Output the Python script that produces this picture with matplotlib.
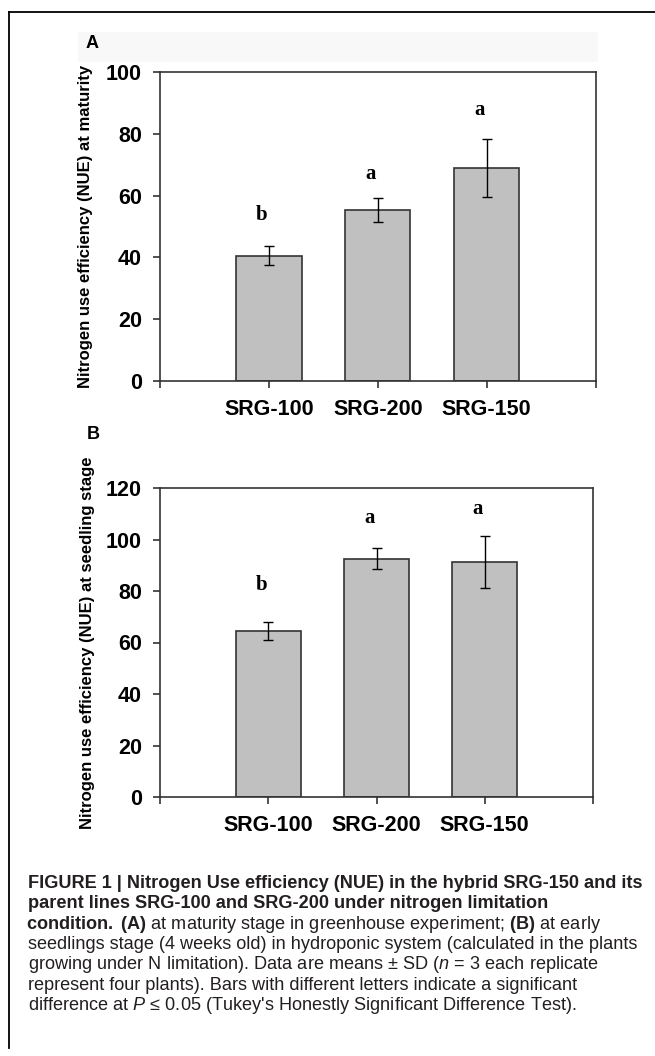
import numpy as np
import matplotlib
matplotlib.use("Agg")
import matplotlib.pyplot as plt
from matplotlib import font_manager
from matplotlib.patches import Rectangle
from matplotlib.lines import Line2D

plt.rcParams['font.family'] = ['Liberation Sans', 'DejaVu Sans']

installed = {f.name for f in font_manager.fontManager.ttflist}
CAP_FONT = 'Liberation Sans Narrow' if 'Liberation Sans Narrow' in installed else 'Liberation Sans'

plt.rcParams['mathtext.fontset'] = 'custom'
plt.rcParams['mathtext.rm'] = CAP_FONT
plt.rcParams['mathtext.bf'] = CAP_FONT + ':bold'
plt.rcParams['mathtext.it'] = CAP_FONT + ':italic'

# ---------------- data ----------------
categories = ['SRG-100', 'SRG-200', 'SRG-150']

nue_maturity = [40.6, 55.3, 68.9]
sd_maturity = [3.1, 4.0, 9.4]
letters_maturity = ['b', 'a', 'a']
letter_y_maturity = [53.7, 67.0, 87.7]
yticks_maturity = [0, 20, 40, 60, 80, 100]

nue_seedling = [64.6, 92.5, 91.3]
sd_seedling = [3.5, 4.1, 10.0]
letters_seedling = ['b', 'a', 'a']
letter_y_seedling = [82.3, 108.3, 111.8]
yticks_seedling = [0, 20, 40, 60, 80, 100, 120]

ylabel_maturity = 'Nitrogen use efficiency (NUE) at maturity'
ylabel_seedling = 'Nitrogen use efficiency (NUE) at seedling stage'

caption_lines = [
    r'FIGURE 1 | Nitrogen Use efficiency (NUE) in the hybrid SRG-150 and its',
    r'parent lines SRG-100 and SRG-200 under nitrogen limitation',
    r'$\mathbf{condition.\ (A)}$ at maturity stage in greenhouse experiment; $\mathbf{(B)}$ at early',
    r'seedlings stage (4 weeks old) in hydroponic system (calculated in the plants',
    r'growing under N limitation). Data are means ± SD ($\mathit{n}$ = 3 each replicate',
    r'represent four plants). Bars with different letters indicate a significant',
    r"difference at $\mathit{P}$ ≤ 0.05 (Tukey's Honestly Significant Difference Test).",
]
caption_bold = [True, True, False, False, False, False, False]

# ---------------- figure ----------------
W, H = 655, 1056
fig = plt.figure(figsize=(W / 100, H / 100), dpi=100)


def fx(px):
    return px / W


def fy(py):
    return 1 - py / H


# outer frame (top and left edges visible)
fig.add_artist(Line2D([fx(9), fx(655)], [fy(12), fy(12)], color='black', lw=1.3))
fig.add_artist(Line2D([fx(9), fx(9)], [fy(12), fy(1048)], color='black', lw=1.3))

# faint band behind panel tag A
fig.add_artist(Rectangle((fx(78), fy(62)), fx(598) - fx(78), fy(32) - fy(62),
                         facecolor='#f8f8f8', edgecolor='none', zorder=0))

EDGE = '#333333'


def panel(left, top, right, bottom, vals, sds, letters, lety, ymax, yticks,
          ylabel, ylabel_x, tag, tag_xy):
    ax = fig.add_axes([fx(left), fy(bottom), fx(right) - fx(left), fy(top) - fy(bottom)])
    x = np.arange(len(categories))
    ax.bar(x, vals, width=0.6, color='#c0c0c0', edgecolor=EDGE, linewidth=1.2, zorder=2)
    ax.errorbar(x, vals, yerr=sds, fmt='none', ecolor='black', elinewidth=1.0,
                capsize=3.6, capthick=1.0, zorder=3)
    for xi, l, ly in zip(x, letters, lety):
        ax.text(xi - 0.065, ly, l, ha='center', va='center',
                fontfamily=['Liberation Serif', 'DejaVu Serif'], fontweight='bold', fontsize=15)
    ax.set_xlim(-1, 3)
    ax.set_ylim(0, ymax)
    ax.set_xticks([-1, 0, 1, 2, 3])
    ax.set_xticklabels([''] + categories + [''])
    ax.set_yticks(yticks)
    ax.tick_params(direction='out', length=5, width=1.2, color=EDGE, labelsize=15.5, pad=8)
    for s in ax.spines.values():
        s.set_color(EDGE)
        s.set_linewidth(1.2)
    for lab in ax.get_xticklabels() + ax.get_yticklabels():
        lab.set_fontweight('bold')
    fig.text(fx(ylabel_x), fy((top + bottom) / 2), ylabel, rotation=90, ha='center',
             va='center', fontsize=12, fontweight='bold')
    fig.text(fx(tag_xy[0]), fy(tag_xy[1]), tag, ha='center', va='center',
             fontsize=13, fontweight='bold')
    return ax


panel(160, 72, 595.5, 381, nue_maturity, sd_maturity, letters_maturity,
      letter_y_maturity, 100, yticks_maturity, ylabel_maturity, 86, 'A', (92, 43))
panel(160, 488, 593, 797, nue_seedling, sd_seedling, letters_seedling,
      letter_y_seedling, 120, yticks_seedling, ylabel_seedling, 88, 'B', (93, 435))

# ---------------- caption ----------------
renderer = fig.canvas.get_renderer()
probe = fig.text(fx(28), fy(888), caption_lines[0], fontsize=10, fontweight='bold',
                 fontfamily=[CAP_FONT, 'DejaVu Sans'])
w = probe.get_window_extent(renderer).width
probe.remove()
cap_size = 10 * 614 / w

for i, (line, bold) in enumerate(zip(caption_lines, caption_bold)):
    x0 = 28 - (2.5 if line.startswith('$') else 0)
    fig.text(fx(x0), fy(888 + i * 20.3), line, fontsize=cap_size,
             fontfamily=[CAP_FONT, 'DejaVu Sans'],
             fontweight='bold' if bold else 'normal', color='#231f20',
             ha='left', va='baseline')

fig.savefig('out.png', dpi=100)
